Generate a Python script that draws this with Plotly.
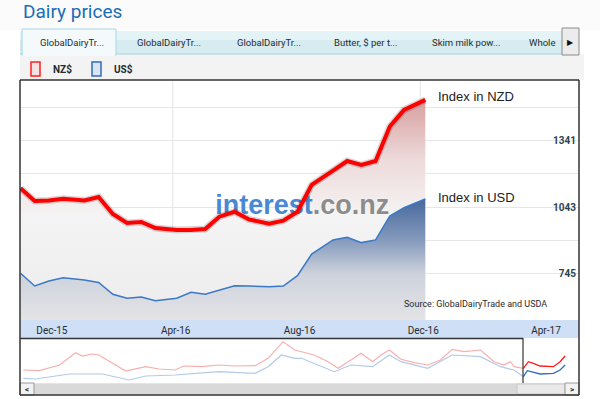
import plotly.graph_objects as go
from datetime import datetime, timedelta

# ---------------- data ----------------
auction_dates = ['2015-11-03', '2015-11-17', '2015-12-01', '2015-12-15', '2016-01-05', '2016-01-19',
                 '2016-02-02', '2016-02-16', '2016-03-01', '2016-03-15', '2016-04-05', '2016-04-19',
                 '2016-05-03', '2016-05-17', '2016-06-01', '2016-06-15', '2016-07-05', '2016-07-19',
                 '2016-08-02', '2016-08-16', '2016-09-06', '2016-09-20', '2016-10-04', '2016-10-18',
                 '2016-11-01', '2016-11-15', '2016-12-06']
index_nzd = [1128, 1071, 1073, 1081, 1073, 1089, 1013, 973, 977, 950, 941, 941, 946, 1001, 1023, 989,
             970, 983, 1023, 1143, 1207, 1250, 1232, 1250, 1404, 1478, 1523]
index_usd = [748, 691, 713, 728, 718, 707, 654, 636, 642, 625, 636, 663, 654, 673, 692, 691, 688, 691,
             737, 834, 897, 909, 885, 897, 1004, 1041, 1080]

tick_dates = ['2015-12-01', '2016-04-01', '2016-08-01', '2016-12-01', '2017-04-01']
tick_labels = ['Dec-15', 'Apr-16', 'Aug-16', 'Dec-16', 'Apr-17']
y_ticks = [745, 894, 1043, 1192, 1341, 1490]
y_tick_labels = ['745', '', '1043', '', '1341', '']

# navigator (overview) series: position along the overview, value in overview units
nav_nzd_t = [0.1, 3.0, 6.6, 9.5, 10.7, 12.5, 13.7, 16.1, 18.5, 22.1, 24.5, 27.4, 28.9, 32.2, 35.2, 38.2,
             41.8, 44.1, 46.8, 48.9, 50.1, 52.4, 54.9, 56.7, 59.0, 60.8, 62.9, 64.4, 65.9, 68.0, 70.4,
             72.8, 75.1, 77.2, 79.3, 82.3, 84.7, 86.5, 87.7, 88.3, 90.0]
nav_nzd_v = [13, 12.3, 18, 30.3, 27, 29, 28, 19.7, 12, 16.3, 14, 13, 17, 16.3, 18, 17, 17.3, 24.7, 41.3,
             33, 31.3, 28, 21.3, 14.7, 23, 29.7, 21.3, 28, 33, 23.7, 20.3, 18, 23, 33.7, 31.3, 33, 21.3,
             18, 21.3, 16.3, 14.7]
nav_nzd_recent_t = [90.0, 90.9, 91.8, 93.0, 95.4, 96.6, 97.5]
nav_nzd_recent_v = [14.7, 21.3, 19.7, 17, 16.3, 21.3, 27]
nav_usd_t = [0.1, 2.3, 8.4, 14.3, 19.1, 22.1, 27.4, 35.2, 41.8, 44.1, 46.5, 48.9, 50.1, 52.4, 56.0, 59.0,
             62.9, 65.9, 68.0, 72.8, 77.2, 82.3, 85.9, 88.3, 90.0]
nav_usd_v = [4.7, 4, 9, 9, 3, 7, 8, 11.3, 9.7, 16.3, 28, 24.7, 24.7, 19.7, 11.3, 18, 16.3, 28, 21.3, 14.7,
             28, 26.3, 16.3, 13, 6.3]
nav_usd_recent_t = [90.0, 90.7, 93.0, 95.4, 96.6, 97.5]
nav_usd_recent_v = [6.3, 12.3, 9, 9.7, 13, 18]

# ---------------- helpers ----------------
W, H = 600, 399


def px(x):
    return x / W


def py(y):
    return 1 - y / H


x_start = datetime(2015, 11, 3) - timedelta(days=0.5)
x_end = x_start + timedelta(days=551)
y_min, y_max = 539, 1612

UI_FONT = 'Roboto'

fig = go.Figure()

# fills (drawn first)
fig.add_trace(go.Scatter(
    x=auction_dates, y=index_nzd, mode='lines', line=dict(width=0), fill='tozeroy',
    fillgradient=dict(type='vertical', start=y_min, stop=max(index_nzd) + 40,
                      colorscale=[[0, 'rgb(236,236,236)'], [0.45, 'rgb(245,244,244)'],
                                  [0.7, 'rgb(238,218,218)'], [1, 'rgb(212,150,150)']]),
    hoverinfo='skip', showlegend=False))
fig.add_trace(go.Scatter(
    x=auction_dates, y=index_usd, mode='lines', line=dict(width=0), fill='tozeroy',
    fillgradient=dict(type='vertical', start=y_min, stop=max(index_usd),
                      colorscale=[[0, 'rgb(228,228,230)'], [0.38, 'rgb(205,210,220)'],
                                  [0.65, 'rgb(135,156,190)'], [1, 'rgb(70,104,156)']]),
    hoverinfo='skip', showlegend=False))

# watermark (between fills and lines)
wm_x = x_start + (x_end - x_start) * 0.505
wm_y = y_min + (y_max - y_min) * 0.47
fig.add_trace(go.Scatter(
    x=[wm_x], y=[wm_y], mode='text',
    text=['<b><span style="color:#4a88d4">interest</span>.co.nz</b>'],
    textfont=dict(family='Liberation Sans', size=27, color='#8c8c8c', weight='bold',
                  shadow='0px 0px 2px white'),
    textposition='middle center', hoverinfo='skip', showlegend=False))

# shadow + lines
fig.add_trace(go.Scatter(x=auction_dates, y=index_nzd, mode='lines',
                         line=dict(color='rgba(60,20,20,0.18)', width=7), hoverinfo='skip',
                         showlegend=False))
fig.add_trace(go.Scatter(x=auction_dates, y=index_nzd, mode='lines', name='NZ$',
                         line=dict(color='#ff0000', width=4), showlegend=False))
fig.add_trace(go.Scatter(x=auction_dates, y=index_usd, mode='lines', name='US$',
                         line=dict(color='#3a78c8', width=1.5), showlegend=False))

# navigator
fig.add_trace(go.Scatter(x=nav_nzd_t, y=nav_nzd_v, mode='lines', xaxis='x2', yaxis='y2',
                         line=dict(color='rgb(246,175,175)', width=1.2), hoverinfo='skip', showlegend=False))
fig.add_trace(go.Scatter(x=nav_usd_t, y=nav_usd_v, mode='lines', xaxis='x2', yaxis='y2',
                         line=dict(color='rgb(178,202,232)', width=1.2), hoverinfo='skip', showlegend=False))
fig.add_trace(go.Scatter(x=nav_nzd_recent_t, y=nav_nzd_recent_v, mode='lines', xaxis='x2', yaxis='y2',
                         line=dict(color='#ff1a1a', width=1.3), hoverinfo='skip', showlegend=False))
fig.add_trace(go.Scatter(x=nav_usd_recent_t, y=nav_usd_recent_v, mode='lines', xaxis='x2', yaxis='y2',
                         line=dict(color='#2f6cc0', width=1.3), hoverinfo='skip', showlegend=False))

shapes = []


def rect(x0, y0, x1, y1, fill, line=None, lw=1, layer='below'):
    shapes.append(dict(type='rect', xref='paper', yref='paper', x0=px(x0), x1=px(x1), y0=py(y1), y1=py(y0),
                       fillcolor=fill, line=dict(color=line or 'rgba(0,0,0,0)', width=lw if line else 0),
                       layer=layer))


def hline(x0, x1, y, color='#333', lw=1.5, layer='above'):
    shapes.append(dict(type='line', xref='paper', yref='paper', x0=px(x0), x1=px(x1), y0=py(y), y1=py(y),
                       line=dict(color=color, width=lw), layer=layer))


def vline(x, y0, y1, color='#333', lw=1.5, layer='above'):
    shapes.append(dict(type='line', xref='paper', yref='paper', x0=px(x), x1=px(x), y0=py(y0), y1=py(y1),
                       line=dict(color=color, width=lw), layer=layer))


# background chrome
rect(0, 0, 600, 30, '#fbfbfb')
rect(20, 54, 584, 80, '#f3f3f3')
rect(20, 31, 562, 54, '#d6ecf1')
rect(20, 31, 562, 40, '#e4f3f6')
hline(20, 562, 54, '#a6d3dc', 1.2, 'below')
rect(22, 29, 116, 55, '#f4fafb', '#a9d6de', 1)
rect(23, 53, 115, 56, '#f4fafb')
rect(562, 28, 579, 55, '#ececec', '#8a8a8a', 1)
# legend boxes
rect(31, 62, 40, 76, '#f7e2e2', '#ff2020', 1.5)
rect(92, 62, 101, 76, '#dbe4f3', '#2f6cc0', 1.5)
# x-axis band
rect(20, 320, 579, 338, '#cfe0f6')
# vertical grid lines at alternate tick dates
for d in tick_dates[1::2]:
    shapes.append(dict(type='line', xref='x', yref='paper', x0=d, x1=d, y0=py(320), y1=py(80),
                       line=dict(color='#e4e4e4', width=1), layer='below'))
# navigator background + frame
rect(20, 338, 579, 383, 'white')
hline(20, 523, 338.5, '#333', 1.5)
vline(523, 338, 383, '#333', 1.2)
# scrollbar
rect(20, 383, 579, 395, '#e4e4e4')
rect(34, 384, 565, 394, '#d9d9d9')
rect(517, 384, 565, 394, '#e9e9e9', '#c8c8c8', 1, 'above')
rect(20, 383, 34, 395, '#f2f2f2', '#9a9a9a', 1, 'above')
rect(565, 383, 579, 395, '#f2f2f2', '#9a9a9a', 1, 'above')
# outer frame
vline(20, 80, 395)
vline(579, 80, 395)
hline(20, 579, 80)
hline(20, 579, 395)

annotations = []


def text(x, y, s, size=10, color='#1f2d33', xanchor='left', family=UI_FONT, weight='normal'):
    annotations.append(dict(xref='paper', yref='paper', x=px(x), y=py(y), text=s, showarrow=False,
                            xanchor=xanchor, yanchor='middle',
                            font=dict(family=family, size=size, color=color, weight=weight)))


text(21, 11, 'Dairy prices', 19, '#1b6db5', family='Roboto')
tab_texts = ['GlobalDairyTr...', 'GlobalDairyTr...', 'GlobalDairyTr...', 'Butter, $ per t...',
             'Skim milk pow...', 'Whole']
tab_x = [72, 169, 269, 366, 466, 542]
for t, xx in zip(tab_texts, tab_x):
    text(xx, 42, t, 9.5, '#1e2b30', 'center')
text(570.5, 42, '▶', 8, '#111', 'center')
text(51, 69, 'NZ$', 10, '#1e2b30', weight='bold')
text(112, 69, 'US$', 10, '#1e2b30', weight='bold')
text(549, 304, 'Source: GlobalDairyTrade and USDA', 9, '#2a2a2a', 'right')
text(27, 389.5, '<', 8, '#222', 'center', weight='bold')
text(572, 389.5, '>', 8, '#222', 'center', weight='bold')

# series end labels anchored on last points
annotations.append(dict(xref='x', yref='y', x=auction_dates[-1], y=index_nzd[-1], text='Index in NZD',
                        showarrow=False, xanchor='left', yanchor='middle', xshift=11, yshift=3,
                        font=dict(family='Liberation Sans', size=13, color='#222')))
annotations.append(dict(xref='x', yref='y', x=auction_dates[-1], y=index_usd[-1], text='Index in USD',
                        showarrow=False, xanchor='left', yanchor='middle', xshift=11, yshift=1,
                        font=dict(family='Liberation Sans', size=13, color='#222')))

fig.update_layout(
    width=W, height=H, margin=dict(l=0, r=0, t=0, b=0),
    paper_bgcolor='white', plot_bgcolor='white', showlegend=False,
    shapes=shapes, annotations=annotations,
    xaxis=dict(domain=[px(20), px(579)], range=[x_start, x_end], type='date',
               tickvals=tick_dates, ticktext=tick_labels, showgrid=False, zeroline=False,
               showline=False, ticks='', ticklabelstandoff=3, ticklabelshift=3,
               tickfont=dict(family=UI_FONT, size=10, color='#1e2b30'), anchor='y', fixedrange=True),
    yaxis=dict(domain=[py(320), py(80)], range=[y_min, y_max], side='right', anchor='x',
               tickvals=y_ticks, ticktext=y_tick_labels, ticklabelposition='inside',
               showgrid=True, gridcolor='#e6e6e6', gridwidth=1, zeroline=False, showline=False,
               tickfont=dict(family=UI_FONT, size=10, color='#2d4450', weight='bold'), fixedrange=True),
    xaxis2=dict(domain=[px(20), px(579)], range=[-0.5, 100], anchor='y2', visible=False),
    yaxis2=dict(domain=[py(383), py(338)], range=[0, 45], anchor='x2', visible=False),
)

fig.write_html('out.html')
